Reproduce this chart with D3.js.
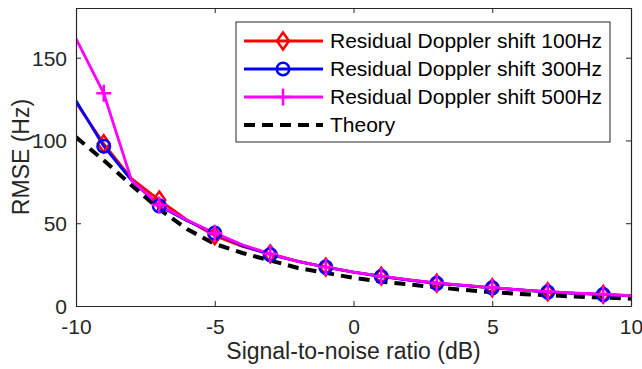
<!DOCTYPE html>
<html>
<head>
<meta charset="utf-8">
<script src="https://cdn.jsdelivr.net/npm/d3@7"></script>
<style>
  body { margin: 0; background: #fff; }
  svg { display: block; font-family: "Liberation Sans", Arial, sans-serif; }
</style>
</head>
<body>
<div id="chart"></div>
<script>
// SNR grid (dB) and RMSE values (Hz)
const snr = [-10, -9, -8, -7, -6, -5, -4, -3, -2, -1, 0, 1, 2, 3, 4, 5, 6, 7, 8, 9, 10];
const rmse100 = [123, 98, 77, 64, 52, 42.5, 36, 31.5, 27, 23.5, 20.5, 18, 15.7, 13.8, 12.4, 11, 9.8, 8.6, 7.8, 7, 6.2];
const rmse300 = [124, 96.5, 76, 60.5, 51.5, 44, 36.5, 31, 27, 23.5, 20.5, 17.8, 15.6, 13.7, 12.3, 11, 9.7, 8.4, 7.6, 6.9, 6.1];
const rmse500 = [161.5, 128.5, 76, 61, 52, 44, 37, 31.5, 27, 23.5, 20.5, 18, 15.8, 13.9, 12.4, 11.1, 9.8, 8.7, 7.8, 7.1, 6.2];
const theory = [102, 88, 73, 58.5, 46.5, 37.5, 32, 27.5, 23, 20, 17, 14.7, 13, 11.3, 9.7, 8.3, 7.3, 6.5, 5.7, 5.1, 4.4];
const markerSnr = [-9, -7, -5, -3, -1, 1, 3, 5, 7, 9];

const xTicks = [-10, -5, 0, 5, 10];
const yTicks = [0, 50, 100, 150];

const series = [
  { name: "Residual Doppler shift 100Hz", values: rmse100, color: "#ff0000", marker: "diamond" },
  { name: "Residual Doppler shift 300Hz", values: rmse300, color: "#0000ff", marker: "circle" },
  { name: "Residual Doppler shift 500Hz", values: rmse500, color: "#ff00ff", marker: "plus" },
  { name: "Theory", values: theory, color: "#000000", marker: null, dashed: true }
];

const width = 642, height = 369;
const margin = { top: 8, right: 11, bottom: 63, left: 76 };
const innerW = width - margin.left - margin.right;
const innerH = height - margin.top - margin.bottom;
const axisColor = "#262626";
const font = '"Liberation Sans", Arial, sans-serif';

const svg = d3.select("#chart").append("svg")
  .attr("width", width).attr("height", height);

const g = svg.append("g").attr("transform", `translate(${margin.left},${margin.top})`);

const x = d3.scaleLinear().domain([-10, 10]).range([0, innerW]);
const y = d3.scaleLinear().domain([0, 180]).range([innerH, 0]);

svg.append("defs").append("clipPath").attr("id", "clip")
  .append("rect").attr("width", innerW).attr("height", innerH);

const line = d3.line().x((d) => x(d[0])).y((d) => y(d[1]));

function drawMarker(sel, type, color) {
  if (type === "diamond") {
    sel.append("path").attr("d", "M0,-8.5L6,0L0,8.5L-6,0Z")
      .attr("fill", "none").attr("stroke", color).attr("stroke-width", 2.5);
  } else if (type === "circle") {
    sel.append("circle").attr("r", 6.3)
      .attr("fill", "none").attr("stroke", color).attr("stroke-width", 2.5);
  } else if (type === "plus") {
    sel.append("path").attr("d", "M-7.5,0H7.5M0,-8.5V8.5")
      .attr("fill", "none").attr("stroke", color).attr("stroke-width", 2.5);
  }
}

// theory first, coloured series on top
const order = [3, 0, 1, 2];
const plot = g.append("g").attr("clip-path", "url(#clip)");
order.forEach((i) => {
  const s = series[i];
  const pts = snr.map((v, k) => [v, s.values[k]]);
  plot.append("path").datum(pts)
    .attr("d", line)
    .attr("fill", "none")
    .attr("stroke", s.color)
    .attr("stroke-width", s.dashed ? 4 : 2.8)
    .attr("stroke-dasharray", s.dashed ? "11,7" : null);
});
order.forEach((i) => {
  const s = series[i];
  if (!s.marker) return;
  markerSnr.forEach((v) => {
    const k = snr.indexOf(v);
    const m = g.append("g").attr("transform", `translate(${x(v)},${y(s.values[k])})`);
    drawMarker(m, s.marker, s.color);
  });
});

// axes (box with inward ticks on all four sides)
const xAxis = g.append("g").attr("transform", `translate(0,${innerH})`)
  .call(d3.axisBottom(x).tickValues(xTicks).tickSizeInner(-5).tickSizeOuter(0).tickPadding(13).tickFormat(d3.format("d")));
const yAxis = g.append("g")
  .call(d3.axisLeft(y).tickValues(yTicks).tickSizeInner(-5).tickSizeOuter(0).tickPadding(9).tickFormat(d3.format("d")));
const xTop = g.append("g")
  .call(d3.axisTop(x).tickValues(xTicks).tickSizeInner(-5).tickSizeOuter(0).tickFormat(""));
const yRight = g.append("g").attr("transform", `translate(${innerW},0)`)
  .call(d3.axisRight(y).tickValues(yTicks).tickSizeInner(-5).tickSizeOuter(0).tickFormat(""));

[xAxis, yAxis, xTop, yRight].forEach((a) => {
  a.select(".domain").attr("stroke", axisColor).attr("stroke-width", 1.2);
  a.selectAll(".tick line").attr("stroke", axisColor);
  a.selectAll("text").attr("fill", axisColor).style("font-size", "21px")
    .style("font-family", font);
});
xAxis.selectAll("text").text((d) => (d < 0 ? "-" + Math.abs(d) : d));
yAxis.selectAll("text").attr("dy", "0.35em");

// axis titles
svg.append("text")
  .attr("x", margin.left + innerW / 2).attr("y", 359)
  .attr("text-anchor", "middle").attr("fill", axisColor)
  .style("font-size", "23px")
  .text("Signal-to-noise ratio (dB)");

svg.append("text")
  .attr("transform", `translate(29,${margin.top + innerH / 2}) rotate(-90)`)
  .attr("text-anchor", "middle").attr("fill", axisColor)
  .style("font-size", "23px")
  .text("RMSE (Hz)");

// legend
const legend = svg.append("g").attr("transform", "translate(236,22)");
legend.append("rect").attr("width", 374).attr("height", 120)
  .attr("fill", "#fff").attr("stroke", axisColor).attr("stroke-width", 1);
series.forEach((s, i) => {
  const row = legend.append("g").attr("transform", `translate(0,${19 + i * 28})`);
  row.append("line").attr("x1", 8).attr("x2", 87)
    .attr("stroke", s.color)
    .attr("stroke-width", s.dashed ? 4 : 2.8)
    .attr("stroke-dasharray", s.dashed ? "11,7" : null);
  if (s.marker) {
    const m = row.append("g").attr("transform", "translate(47,0)");
    drawMarker(m, s.marker, s.color);
  }
  row.append("text").attr("x", 94).attr("dy", "0.35em")
    .attr("fill", "#000").style("font-size", "21px")
    .text(s.name);
});
</script>
</body>
</html>
